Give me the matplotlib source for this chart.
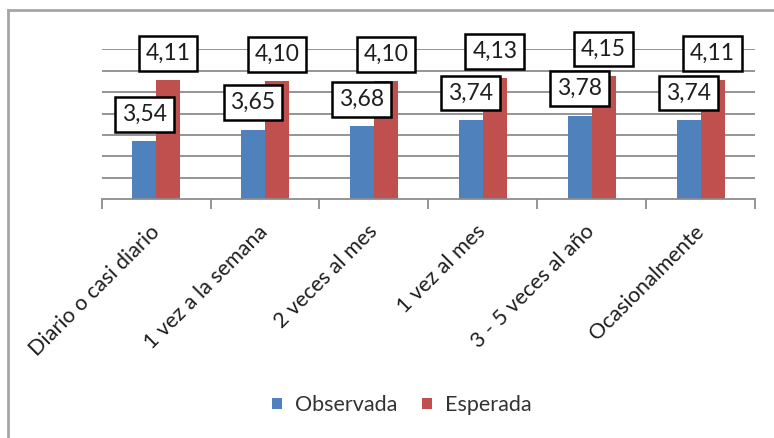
import matplotlib
matplotlib.use("Agg")
import matplotlib.pyplot as plt
from matplotlib.lines import Line2D
import numpy as np

plt.rcParams['font.family'] = ['Lato', 'DejaVu Sans']

categories = ["Diario o casi diario", "1 vez a la semana", "2 veces al mes",
              "1 vez al mes", "3 - 5 veces al año", "Ocasionalmente"]
observada = [3.54, 3.65, 3.68, 3.74, 3.78, 3.74]
esperada = [4.11, 4.10, 4.10, 4.13, 4.15, 4.11]
series_names = ["Observada", "Esperada"]

BLUE = "#4F81BD"
RED = "#C0504D"
GRID = "#8c8c8c"
TEXT = "#1e1e1e"

fig = plt.figure(figsize=(7.74, 4.38), dpi=100)
ax = fig.add_axes([101.7 / 774, 1 - 199.3 / 438, (755 - 101.7) / 774, (199.3 - 49.3) / 438])

x = np.arange(len(categories))
w = 0.22
b1 = ax.bar(x - w / 2, observada, w, color=BLUE, label=series_names[0], zorder=2)
b2 = ax.bar(x + w / 2, esperada, w, color=RED, label=series_names[1], zorder=2)

ax.set_ylim(3.0, 4.4)
ax.set_xlim(-0.5, len(categories) - 0.5)
ax.set_yticks(np.arange(3.2, 4.41, 0.2))
ax.yaxis.grid(True, color=GRID, lw=1.3, zorder=0)
ax.set_axisbelow(True)
ax.tick_params(axis='y', length=0, labelleft=False)
for s in ['top', 'right', 'left']:
    ax.spines[s].set_visible(False)
ax.spines['bottom'].set_color(GRID)
ax.spines['bottom'].set_linewidth(1.3)

ax.set_xticks(x)
ax.set_xticklabels(categories, rotation=45, ha='right', va='center',
                   rotation_mode='anchor', fontsize=15.5, color=TEXT)
ax.tick_params(axis='x', length=0, pad=21)
ax.set_xticks(np.arange(-0.5, len(categories), 1.0), minor=True)
ax.tick_params(axis='x', which='minor', length=7, width=1.3, color=GRID)

def fmt(v):
    return f"{v:.2f}".replace('.', ',')

for bars, vals in ((b1, observada), (b2, esperada)):
    for rect, v in zip(bars, vals):
        ax.annotate(fmt(v), xy=(rect.get_x() + rect.get_width() / 2, v),
                    xytext=(0, 19.5), textcoords='offset points',
                    ha='center', va='center', fontsize=16.5, color=TEXT,
                    zorder=5, annotation_clip=False,
                    bbox=dict(boxstyle='square,pad=0.3', fc='white', ec='black', lw=1.8))

leg = fig.legend(handles=[b1, b2], labels=series_names, loc='center',
                 bbox_to_anchor=(0.519, 1 - 405 / 438), ncol=2, frameon=False,
                 fontsize=15.5, handlelength=0.45, handleheight=0.45,
                 handletextpad=0.6, columnspacing=1.15)
for t in leg.get_texts():
    t.set_color('#333333')

# chart border (left and top edges)
fig.add_artist(Line2D([8 / 774, 8 / 774], [0, 1 - 10 / 438], transform=fig.transFigure,
                      color='#a6a6a6', lw=2))
fig.add_artist(Line2D([8 / 774, 1], [1 - 10 / 438, 1 - 10 / 438], transform=fig.transFigure,
                      color='#a6a6a6', lw=2))

fig.savefig("out.png", dpi=100)
